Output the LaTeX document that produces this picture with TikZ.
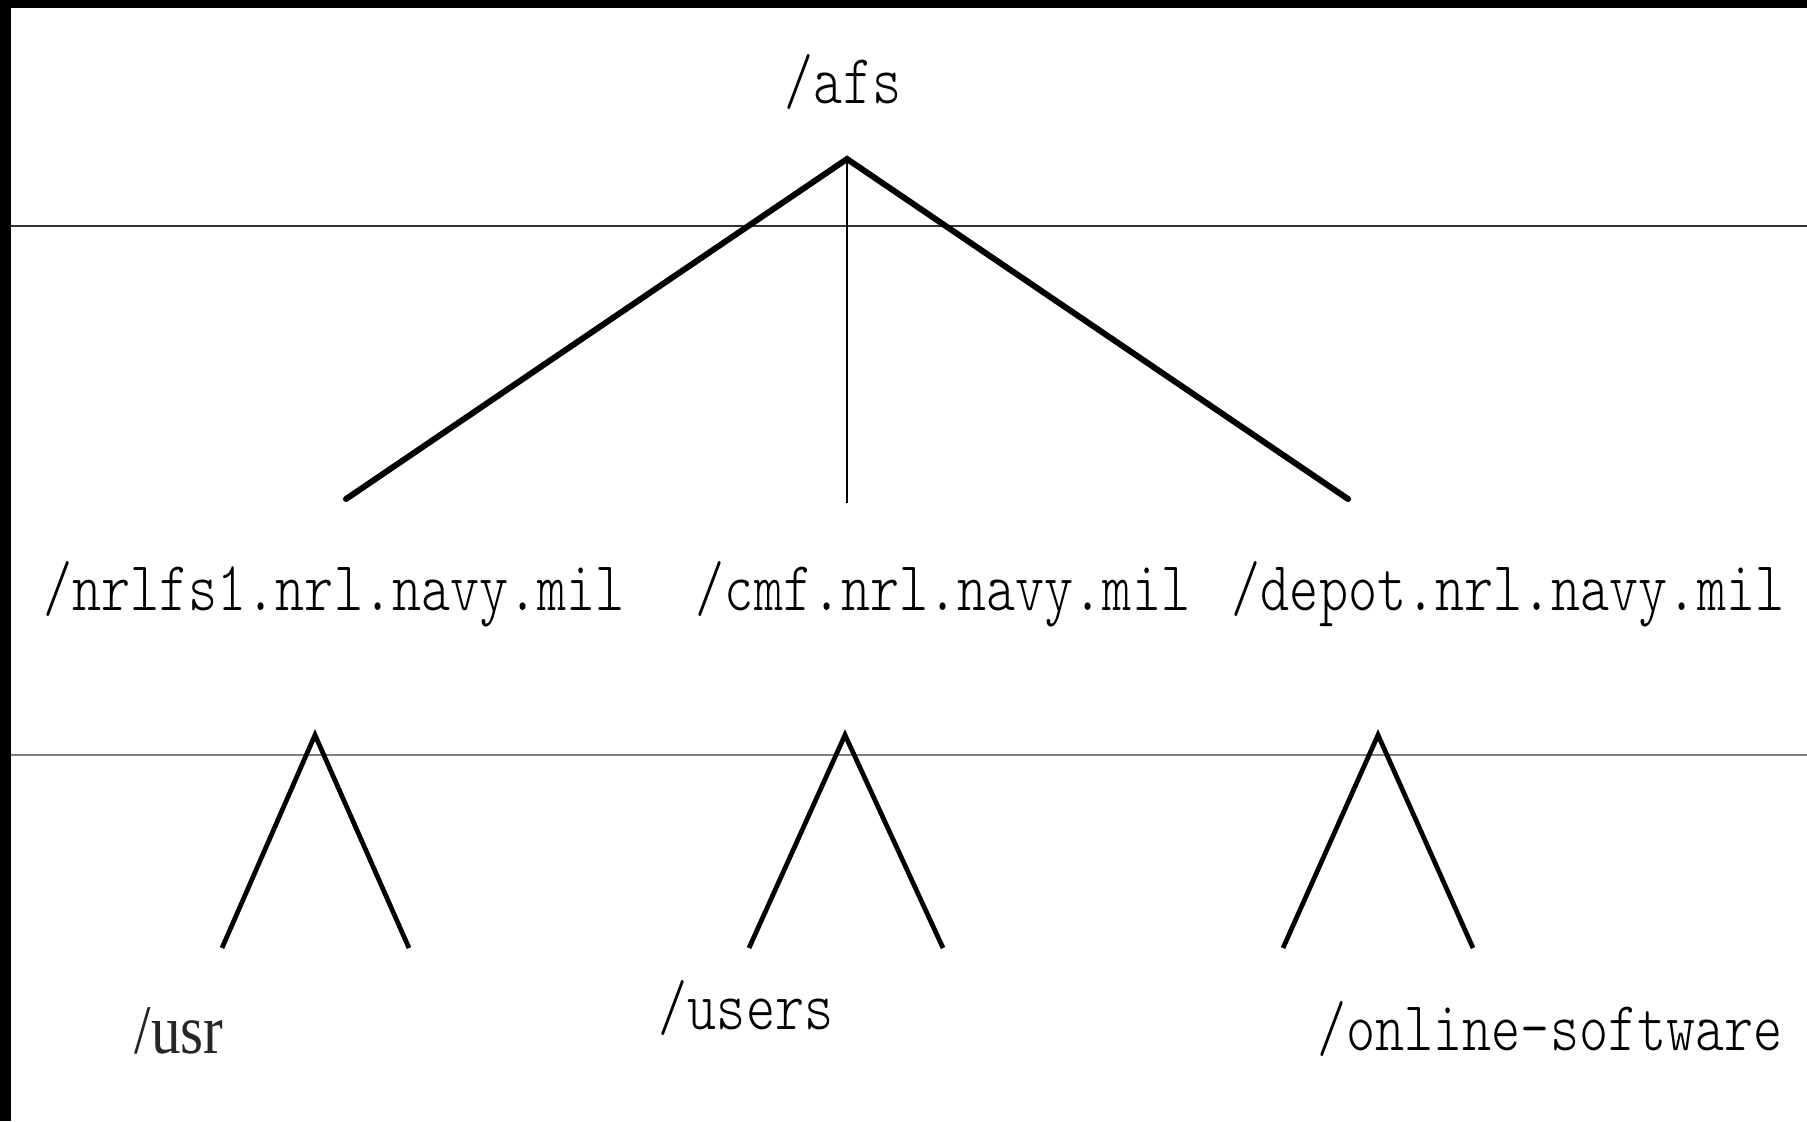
\documentclass[tikz,border=0pt]{standalone}
\usepackage{graphicx}
\usepackage{fontspec}
\usepackage{tikz}
\newfontfamily\usrfont{Liberation Serif}
\newfontfamily\dirfont{Latin Modern Mono Light}
\newcommand{\tall}[1]{\scalebox{1}[1.27]{#1}}
\tikzset{
  dir/.style={inner sep=0pt, anchor=base, font=\fontsize{15.75}{18}\selectfont\dirfont},
  trunk/.style={line width=1.7pt, line cap=round},
  twig/.style={line width=1.35pt},
  rule/.style={line width=0.4pt}
}

\begin{document}
\begin{tikzpicture}[x=0.01cm, y=-0.01cm]
        \useasboundingbox (0,0) rectangle (1807,1121);
        \fill[black] (0,0) rectangle (1807,8);
        \fill[black] (0,0) rectangle (11,1121);
        \draw[rule, black!80] (11,226) -- (1807,226);
        \draw[rule, black!50] (11,755) -- (1807,755);
        \node[dir] (afs) at (843,103) {\tall{/afs}};
        \node[dir] (nrlfs) at (334,610) {\tall{/nrlfs1.nrl.navy.mil}};
        \node[dir] (cmf) at (943,610) {\tall{/cmf.nrl.navy.mil}};
        \node[dir] (depot) at (1508,610) {\tall{/depot.nrl.navy.mil}};
        \node[dir, text=black!85, font=\fontsize{16.8}{18}\selectfont\usrfont] (usr) at (179,1053) {\scalebox{1}[1.18]{/usr}};
        \node[dir] (users) at (746,1029) {\tall{/users}};
        \node[dir] (online) at (1550,1050) {\tall{/online-software}};
        \coordinate (top) at (847,159);
        \coordinate (topl) at (346,499);
        \coordinate (topm) at (847,503);
        \coordinate (topr) at (1348,499);
        \draw[trunk] (topl) -- (top) -- (topr);
        \draw[line width=0.6pt] (top) -- (topm);
        \coordinate (a1) at (315,735);
        \coordinate (a1l) at (222,948);
        \coordinate (a1r) at (409,948);
        \coordinate (a2) at (845,735);
        \coordinate (a2l) at (749,948);
        \coordinate (a2r) at (943,948);
        \coordinate (a3) at (1378,735);
        \coordinate (a3l) at (1283,948);
        \coordinate (a3r) at (1473,948);
        \draw[twig] (a1l) -- (a1) -- (a1r);
        \draw[twig] (a2l) -- (a2) -- (a2r);
        \draw[twig] (a3l) -- (a3) -- (a3r);
    \end{tikzpicture}
\end{document}
